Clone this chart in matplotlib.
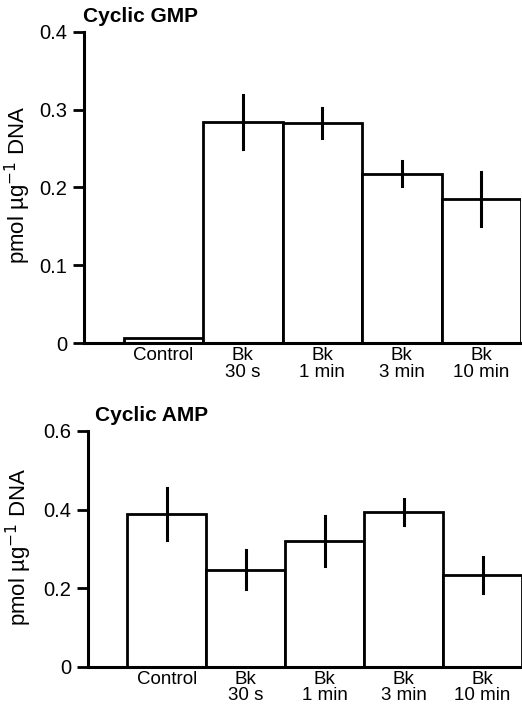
import matplotlib
matplotlib.use("Agg")
import matplotlib.pyplot as plt
import matplotlib.transforms as mtransforms

plt.rcParams['font.family'] = ['Liberation Sans', 'DejaVu Sans']

categories = ["Control", "Bk\n30 s", "Bk\n1 min", "Bk\n3 min", "Bk\n10 min"]

gmp_values = [0.006, 0.284, 0.283, 0.218, 0.185]
gmp_errors = [0.0, 0.035, 0.019, 0.016, 0.035]
gmp_ticks = [0, 0.1, 0.2, 0.3, 0.4]
gmp_ticklabels = ["0", "0.1", "0.2", "0.3", "0.4"]

amp_values = [0.388, 0.247, 0.320, 0.394, 0.233]
amp_errors = [0.066, 0.050, 0.063, 0.033, 0.045]
amp_ticks = [0, 0.2, 0.4, 0.6]
amp_ticklabels = ["0", "0.2", "0.4", "0.6"]

fig = plt.figure(figsize=(5.22, 7.14), dpi=100)
ax1 = fig.add_axes([0.161, 0.5196, 0.837, 0.4356])
ax2 = fig.add_axes([0.1686, 0.0662, 0.8314, 0.3302])

def draw(ax, values, errors, ticks, ticklabels, ymax, title, title_dx, label_x, label_y):
    x = list(range(len(categories)))
    ax.bar(x, values, width=1.0, color="white", edgecolor="black", linewidth=2.0, zorder=2)
    for xi, v, e in zip(x, values, errors):
        if e > 0:
            ax.plot([xi, xi], [v - e, v + e], color="black", linewidth=2.2, zorder=3)
    ax.set_xlim(-1, 4.5)
    ax.set_ylim(0, ymax)
    ax.set_yticks(ticks)
    ax.set_yticklabels(ticklabels, fontsize=14.5)
    ax.set_xticks(x)
    ax.set_xticklabels(categories, fontsize=13.5, linespacing=0.95)
    ax.tick_params(axis="x", length=0, pad=3)
    ax.tick_params(axis="y", length=8, width=2.0, pad=4)
    for s in ["top", "right"]:
        ax.spines[s].set_visible(False)
    for s in ["left", "bottom"]:
        ax.spines[s].set_linewidth(2.2)
    ax.set_ylabel("pmol \u00b5g$^{-1}$ DNA", fontsize=16)
    tr = mtransforms.blended_transform_factory(fig.transFigure, ax.transAxes)
    ax.yaxis.set_label_coords(label_x, label_y, transform=tr)
    ax.annotate(title, xy=(0, 1), xycoords="axes fraction", xytext=(title_dx, 4),
                textcoords="offset points", fontsize=15, fontweight="bold",
                ha="left", va="bottom")

draw(ax1, gmp_values, gmp_errors, gmp_ticks, gmp_ticklabels, 0.4, "Cyclic GMP", -1, 33 / 522, 0.51)
draw(ax2, amp_values, amp_errors, amp_ticks, amp_ticklabels, 0.6, "Cyclic AMP", 5, 34 / 522, 0.51)

fig.savefig("out.png", dpi=100)
